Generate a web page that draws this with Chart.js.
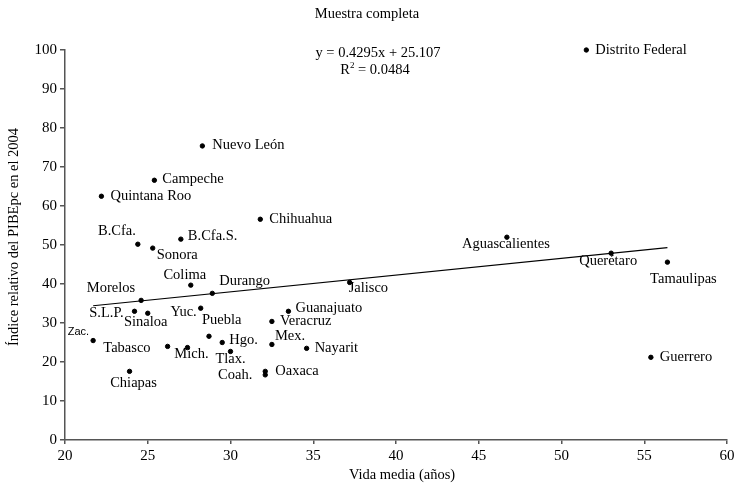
<!DOCTYPE html>
<html lang="es">
<head>
<meta charset="UTF-8">
<title>Muestra completa</title>
<script src="https://cdn.jsdelivr.net/npm/chart.js"></script>
<style>
    body { margin: 0; padding: 0; background: #fff; }
    #chart { display: block; }
</style>
</head>
<body>
<canvas id="chart" width="734" height="489"></canvas>
<script>
// datos
const states = ['Distrito Federal', 'Nuevo León', 'Campeche', 'Quintana Roo', 'Chihuahua',
    'B.Cfa.', 'Sonora', 'B.Cfa.S.', 'Aguascalientes', 'Querétaro', 'Tamaulipas', 'Jalisco',
    'Colima', 'Durango', 'Morelos', 'S.L.P.', 'Sinaloa', 'Yuc.', 'Puebla', 'Guanajuato',
    'Veracruz', 'Zac.', 'Tabasco', 'Mich.', 'Hgo.', 'Tlax.', 'Mex.', 'Nayarit',
    'Oaxaca', 'Coah.', 'Chiapas', 'Guerrero'];
const vidaMedia = [51.5, 28.3, 25.4, 22.2, 31.8,
    24.4, 25.3, 27.0, 46.7, 53.0, 56.4, 37.2,
    27.6, 28.9, 24.6, 24.2, 25.0, 28.2, 28.7, 33.5,
    32.5, 21.7, 26.2, 27.4, 29.5, 30.0, 32.5, 34.6,
    32.1, 32.1, 23.9, 55.4];
const pibIndex = [100.0, 75.4, 66.6, 62.5, 56.6,
    50.2, 49.2, 51.5, 52.0, 47.9, 45.6, 40.4,
    39.7, 37.6, 35.8, 33.0, 32.5, 33.8, 26.6, 33.0,
    30.4, 25.5, 24.0, 23.7, 25.0, 22.7, 24.5, 23.5,
    17.6, 16.7, 17.6, 21.2];
const xTicks = [20, 25, 30, 35, 40, 45, 50, 55, 60];
const yTicks = [0, 10, 20, 30, 40, 50, 60, 70, 80, 90, 100];

// recta de tendencia (del texto del grafico)
const slope = 0.4295;
const intercept = 25.107;
const eqText = 'y = 0.4295x + 25.107';
const r2Text = '0.0484';

// posicion de las etiquetas respecto al punto: [dx, dy, align]
const labelPos = {
    'Distrito Federal': [9, 0, 'left'], 'Nuevo León': [10, -1, 'left'],
    'Campeche': [8, -1, 'left'], 'Quintana Roo': [9, 0, 'left'],
    'Chihuahua': [9, 0, 'left'], 'B.Cfa.': [-2, -13, 'right'],
    'Sonora': [4, 7, 'left'], 'B.Cfa.S.': [7, -3, 'left'],
    'Aguascalientes': [-1, 7, 'center'], 'Querétaro': [-3, 8, 'center'],
    'Tamaulipas': [16, 17, 'center'], 'Jalisco': [-1, 6, 'left'],
    'Colima': [-6, -10, 'center'], 'Durango': [7, -12, 'left'],
    'Morelos': [-6, -12, 'right'], 'S.L.P.': [-11, 2, 'right'],
    'Sinaloa': [-2, 9, 'center'], 'Yuc.': [-4, 4, 'right'],
    'Puebla': [-7, -16, 'left'], 'Guanajuato': [7, -3, 'left'],
    'Veracruz': [8, 0, 'left'], 'Zac.': [-4, -9, 'right'],
    'Tabasco': [-17, 2, 'right'], 'Mich.': [4, 7, 'center'],
    'Hgo.': [7, -2, 'left'], 'Tlax.': [0, 8, 'center'],
    'Mex.': [3, -8, 'left'], 'Nayarit': [8, 0, 'left'],
    'Oaxaca': [10, 0, 'left'], 'Coah.': [-13, 0, 'right'],
    'Chiapas': [4, 12, 'center'], 'Guerrero': [9, 0, 'left']
};

const serif = "'Liberation Serif', 'Times New Roman', serif";

const points = vidaMedia.map((x, i) => ({ x: x, y: pibIndex[i] }));
const xMin = Math.min(...vidaMedia);
const xMax = Math.max(...vidaMedia);
const trend = [
    { x: xMin, y: slope * xMin + intercept },
    { x: xMax, y: slope * xMax + intercept }
];

const textPlugin = {
    id: 'textPlugin',
    afterDatasetsDraw(chart) {
        const ctx = chart.ctx;
        const meta = chart.getDatasetMeta(0);
        ctx.save();
        ctx.fillStyle = '#000';
        ctx.textBaseline = 'middle';
        meta.data.forEach((pt, i) => {
            const name = states[i];
            const p = labelPos[name] || [8, 0, 'left'];
            ctx.font = name === 'Zac.' ? "11px 'Liberation Sans', Arial, sans-serif" : '14.5px ' + serif;
            ctx.textAlign = p[2];
            ctx.fillText(name, pt.x + p[0], pt.y + p[1]);
        });

        // titulo
        ctx.font = '14.5px ' + serif;
        ctx.textAlign = 'center';
        ctx.fillText('Muestra completa', 367, 14);

        // ecuacion
        ctx.fillText(eqText, 378, 53);
        const r2 = ' = ' + r2Text;
        const wR = ctx.measureText('R').width;
        ctx.font = '9px ' + serif;
        const w2 = ctx.measureText('2').width;
        ctx.font = '14.5px ' + serif;
        const wRest = ctx.measureText(r2).width;
        let x0 = 375 - (wR + w2 + wRest) / 2;
        ctx.textAlign = 'left';
        ctx.fillText('R', x0, 70);
        ctx.font = '9px ' + serif;
        ctx.fillText('2', x0 + wR, 66);
        ctx.font = '14.5px ' + serif;
        ctx.fillText(r2, x0 + wR + w2, 70);

        // titulos de ejes
        ctx.textAlign = 'center';
        ctx.fillText('Vida media (años)', 402, 475);
        ctx.translate(14, 237);
        ctx.rotate(-Math.PI / 2);
        ctx.fillText('Índice relativo del PIBEpc en el 2004', 0, 0);
        ctx.restore();
    }
};

const ctx = document.getElementById('chart').getContext('2d');
const chart = new Chart(ctx, {
    type: 'scatter',
    data: {
        datasets: [
            {
                label: 'Estados',
                data: points,
                backgroundColor: '#000',
                borderColor: '#000',
                pointRadius: 2.2,
                pointHoverRadius: 2.2,
                clip: false
            },
            {
                type: 'line',
                label: 'Tendencia',
                data: trend,
                borderColor: '#000',
                borderWidth: 1.2,
                pointRadius: 0,
                fill: false
            }
        ]
    },
    plugins: [textPlugin],
    options: {
        responsive: false,
        animation: false,
        devicePixelRatio: 1,
        layout: { padding: { top: 50, right: 0, bottom: 0, left: 0 } },
        plugins: {
            legend: { display: false },
            title: { display: false },
            tooltip: { enabled: false }
        },
        scales: {
            x: {
                type: 'linear',
                min: 20,
                max: 60,
                afterFit: (s) => { s.height = 49; s.paddingRight = 7; s.paddingLeft = 0; },
                afterBuildTicks: (s) => { s.ticks = xTicks.map(v => ({ value: v })); },
                grid: { drawOnChartArea: false, drawTicks: true, tickLength: 4, color: '#555', lineWidth: 1.5 },
                border: { color: '#555', width: 1.5 },
                ticks: { color: '#000', padding: 3, font: { family: serif, size: 15 } }
            },
            y: {
                type: 'linear',
                min: 0,
                max: 100,
                afterFit: (s) => { s.width = 65; },
                afterBuildTicks: (s) => { s.ticks = yTicks.map(v => ({ value: v })); },
                grid: { drawOnChartArea: false, drawTicks: true, tickLength: 5, color: '#555', lineWidth: 1.5 },
                border: { color: '#555', width: 1.5 },
                ticks: { color: '#000', padding: 3, font: { family: serif, size: 15 } }
            }
        }
    }
});
</script>
</body>
</html>
